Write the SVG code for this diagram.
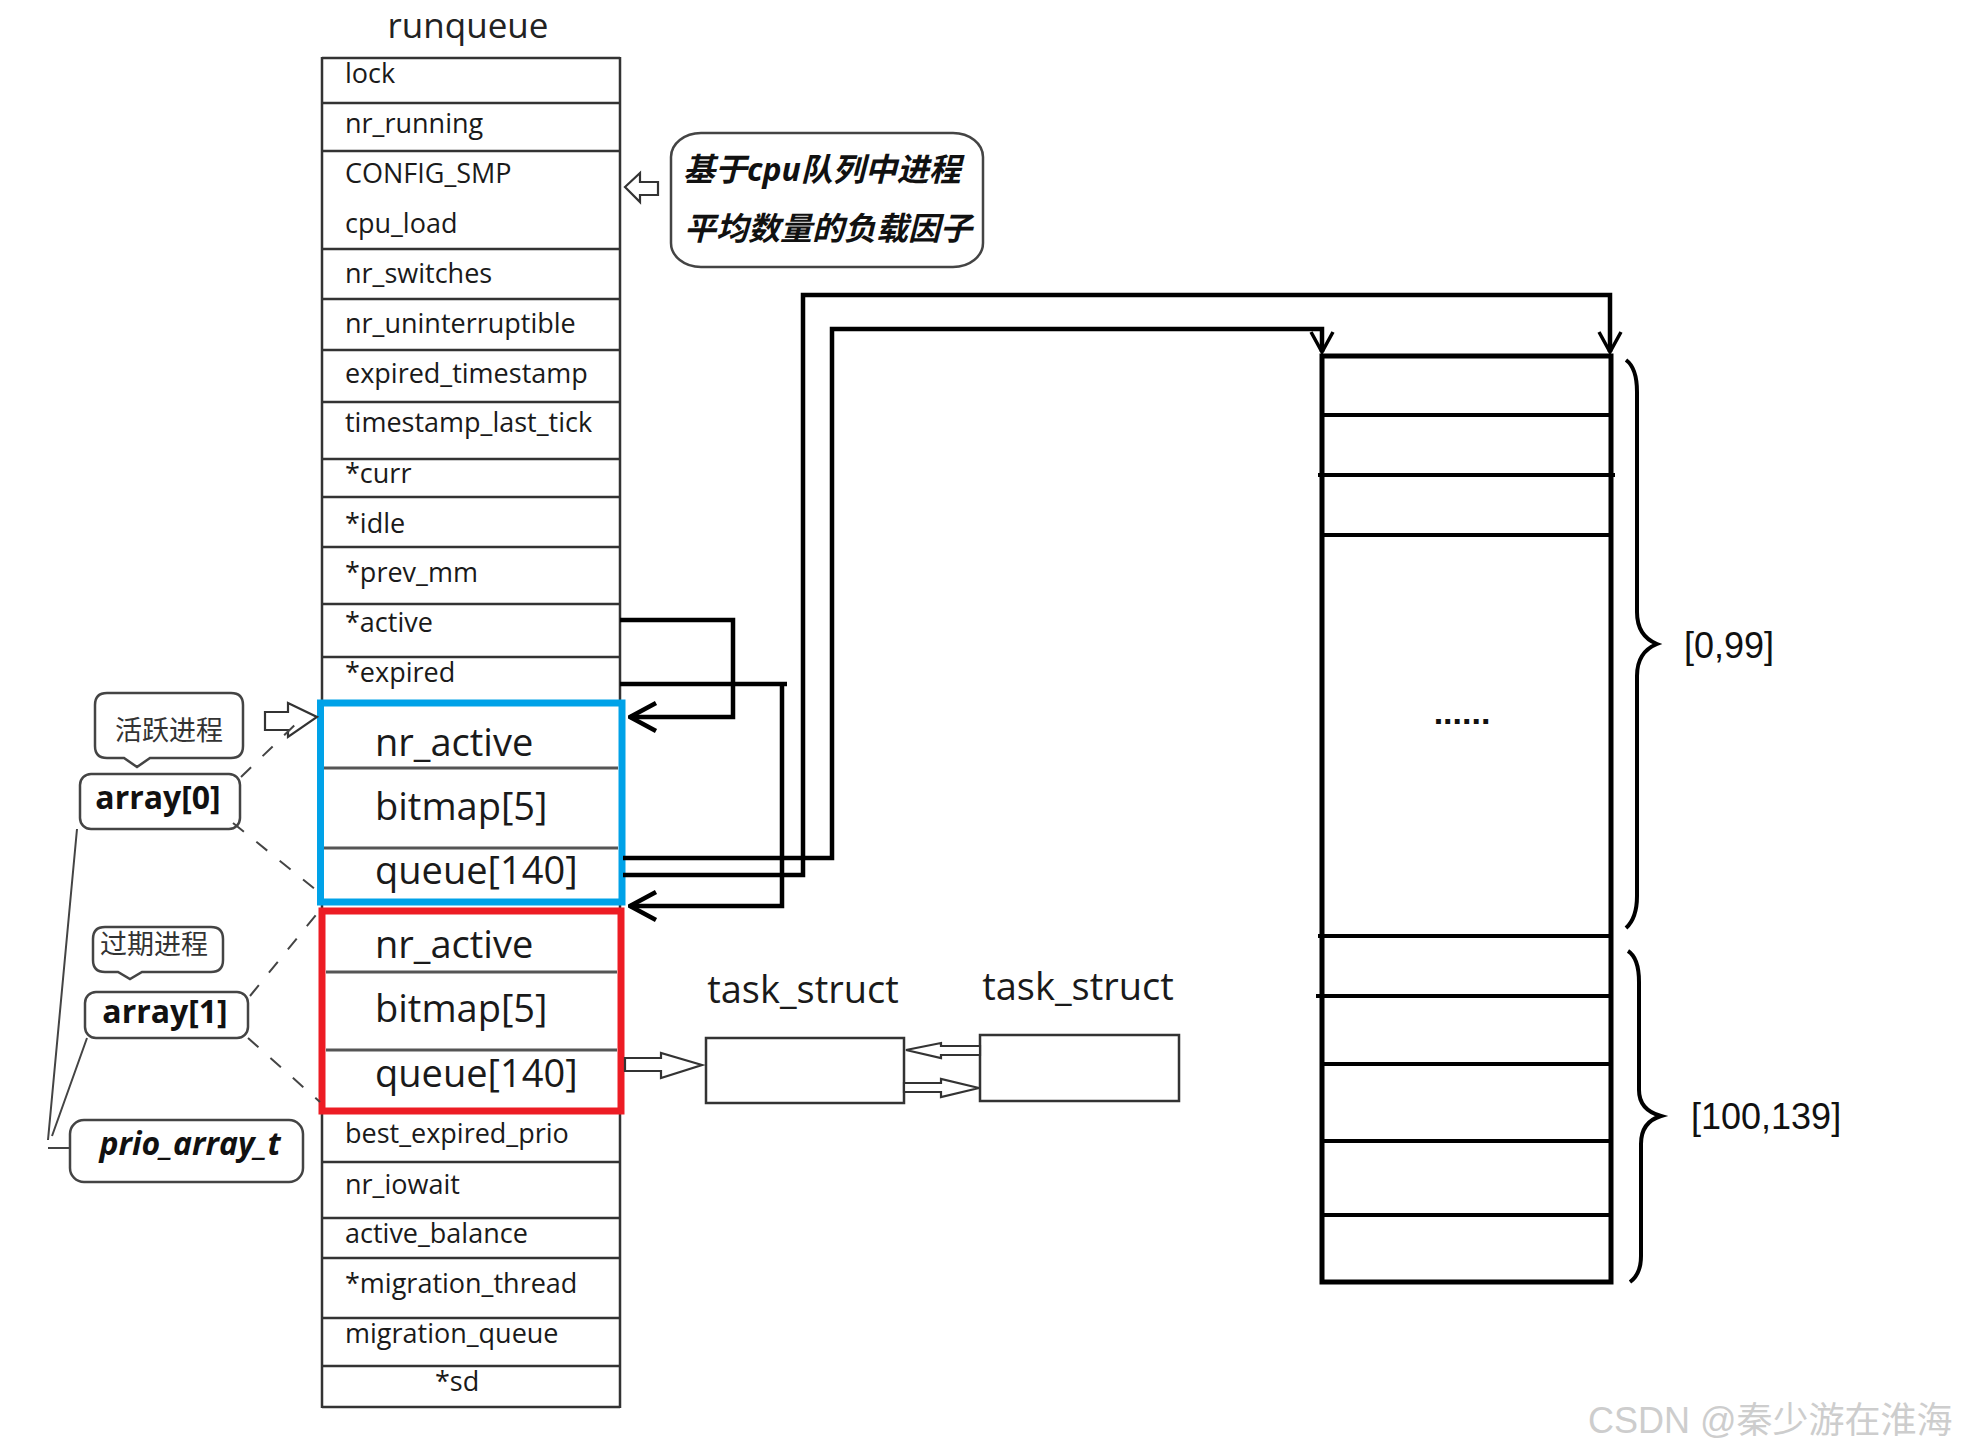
<svg xmlns="http://www.w3.org/2000/svg" width="1967" height="1455" viewBox="0 0 1967 1455">
<style>
.bg{fill:#fff}
.tl{stroke:#333;stroke-width:2.5;fill:none}
.ft{font-family:"Open Sans","Liberation Sans",sans-serif;font-size:27px;fill:#1a1a1a}
.big{font-family:"Open Sans","Liberation Sans",sans-serif;font-size:38px;fill:#1a1a1a}
.title{font-family:"Open Sans","Liberation Sans",sans-serif;font-size:35px;fill:#222}
.cn{font-family:"Noto Sans CJK SC","Noto Sans CJK JP",sans-serif;font-size:27px;fill:#333}
.lbl{font-family:"Open Sans","Liberation Sans",sans-serif;font-weight:bold;font-size:32px;fill:#111}
.note{font-family:"Open Sans","Noto Sans CJK SC",sans-serif;font-weight:bold;font-style:italic;font-size:32px;fill:#111}
.call{fill:#fff;stroke:#444;stroke-width:2.5}
.hol{fill:#fff;stroke:#333;stroke-width:2.2;stroke-linejoin:miter}
.con{fill:none;stroke:#000;stroke-width:4.5}
.dash{fill:none;stroke:#444;stroke-width:2;stroke-dasharray:14 16}
.thin{fill:none;stroke:#444;stroke-width:2}
.box{fill:#fff;stroke:#333;stroke-width:2.5}
.q{stroke:#000;stroke-width:4;fill:none}
.rng{font-family:"Liberation Sans","Open Sans",sans-serif;font-size:36px;fill:#111}
.wm{font-family:"Liberation Sans","Noto Sans CJK SC",sans-serif;font-size:36px;fill:#cdcdcd}
</style>
<defs>
<marker id="chevL" viewBox="0 0 30 32" refX="28" refY="16" markerWidth="30" markerHeight="32" markerUnits="userSpaceOnUse" orient="auto">
<path d="M2,2 L28,16 L2,30" fill="none" stroke="#000" stroke-width="4.5"/>
</marker>
<marker id="chevD" viewBox="0 0 24 26" refX="22" refY="13" markerWidth="24" markerHeight="26" markerUnits="userSpaceOnUse" orient="auto">
<path d="M2,2 L22,13 L2,24" fill="none" stroke="#000" stroke-width="3.5"/>
</marker>
</defs>
<rect class="bg" x="0" y="0" width="1967" height="1455"/>

<text class="title" x="468" y="38" text-anchor="middle">runqueue</text>

<g id="runqueue">
<line class="tl" x1="322" y1="57" x2="322" y2="1408"/>
<line class="tl" x1="620" y1="57" x2="620" y2="1408"/>
<path class="tl" d="M322,58H620 M322,103H620 M322,151H620 M322,249H620 M322,299H620 M322,350H620 M322,402H620 M322,459H620 M322,497H620 M322,547H620 M322,604H620 M322,657H620 M322,1162H620 M322,1218H620 M322,1258H620 M322,1318H620 M322,1366H620 M322,1407H620"/>
<text class="ft" x="345" y="83">lock</text>
<text class="ft" x="345" y="133">nr_running</text>
<text class="ft" x="345" y="183">CONFIG_SMP</text>
<text class="ft" x="345" y="233">cpu_load</text>
<text class="ft" x="345" y="283">nr_switches</text>
<text class="ft" x="345" y="333">nr_uninterruptible</text>
<text class="ft" x="345" y="383">expired_timestamp</text>
<text class="ft" x="345" y="432">timestamp_last_tick</text>
<text class="ft" x="345" y="483">*curr</text>
<text class="ft" x="345" y="533">*idle</text>
<text class="ft" x="345" y="582">*prev_mm</text>
<text class="ft" x="345" y="632">*active</text>
<text class="ft" x="345" y="682">*expired</text>
<text class="ft" x="345" y="1143">best_expired_prio</text>
<text class="ft" x="345" y="1194">nr_iowait</text>
<text class="ft" x="345" y="1243">active_balance</text>
<text class="ft" x="345" y="1293">*migration_thread</text>
<text class="ft" x="345" y="1343">migration_queue</text>
<text class="ft" x="435" y="1391">*sd</text>
</g>

<g id="array0">
<rect x="320.5" y="703" width="301.5" height="199" fill="#fff" stroke="#00a2e8" stroke-width="7"/>
<path d="M324,768H618 M324,848H618" stroke="#555" stroke-width="3"/>
<text class="big" x="375" y="756">nr_active</text>
<text class="big" x="375" y="820">bitmap[5]</text>
<text class="big" x="375" y="884">queue[140]</text>
</g>

<g id="array1">
<rect x="322" y="911" width="299" height="200" fill="#fff" stroke="#ed1c24" stroke-width="7"/>
<path d="M326,972H617 M326,1050H617" stroke="#555" stroke-width="3"/>
<text class="big" x="375" y="958">nr_active</text>
<text class="big" x="375" y="1022">bitmap[5]</text>
<text class="big" x="375" y="1087">queue[140]</text>
</g>

<g id="note-cpu-load">
<rect class="call" x="671" y="133" width="312" height="134" rx="30" ry="24"/>
<text class="note" x="683" y="181">基于cpu队列中进程</text>
<text class="note" x="684" y="240">平均数量的负载因子</text>
</g>

<g id="note-active">
<path class="call" d="M107,693H231Q243,693 243,705V746Q243,758 231,758H150L137,767L124,758H107Q95,758 95,746V705Q95,693 107,693Z"/>
<text class="cn" x="169" y="740" text-anchor="middle">活跃进程</text>
</g>

<g id="note-expired">
<path class="call" d="M105,927H211Q223,927 223,939V960Q223,972 211,972H142L130,979L118,972H105Q93,972 93,960V939Q93,927 105,927Z"/>
<text class="cn" x="154" y="954" text-anchor="middle">过期进程</text>
</g>

<g id="label-array0">
<rect class="call" x="80" y="774" width="160" height="55" rx="11"/>
<text class="lbl" x="158" y="809" text-anchor="middle">array[0]</text>
</g>

<g id="label-array1">
<rect class="call" x="85" y="992" width="163" height="46" rx="11"/>
<text class="lbl" x="165" y="1023" text-anchor="middle">array[1]</text>
</g>

<g id="label-prio-array-t">
<rect class="call" x="70" y="1120" width="233" height="62" rx="14"/>
<text class="lbl" x="190" y="1155" text-anchor="middle" font-style="italic">prio_array_t</text>
</g>

<g id="queue-array">
<rect x="1322" y="356" width="289" height="926" fill="#fff" stroke="#000" stroke-width="5"/>
<path class="q" d="M1322,415H1611 M1318,475H1615 M1322,535H1611 M1318,936H1611 M1316,996H1611 M1322,1064H1611 M1322,1141H1613 M1322,1215H1611"/>
<text x="1462" y="724" text-anchor="middle" font-family="Liberation Sans, sans-serif" font-size="34" font-weight="bold" fill="#111">......</text>
</g>

<g id="range-labels">
<path d="M1626,360Q1637,368 1637,392V612Q1637,636 1657,644Q1637,652 1637,676V896Q1637,918 1626,928" fill="none" stroke="#000" stroke-width="4"/>
<text class="rng" x="1684" y="658">[0,99]</text>
<path d="M1628,951Q1639,958 1639,982V1090Q1639,1110 1661,1116Q1641,1122 1641,1144V1256Q1641,1274 1630,1282" fill="none" stroke="#000" stroke-width="4"/>
<text class="rng" x="1691" y="1129">[100,139]</text>
</g>

<g id="task1">
<text class="big" x="803" y="1003" text-anchor="middle" font-size="37">task_struct</text>
<rect class="box" x="706" y="1038" width="198" height="65"/>
</g>
<g id="task2">
<text class="big" x="1078" y="1000" text-anchor="middle" font-size="37">task_struct</text>
<rect class="box" x="980" y="1035" width="199" height="66"/>
</g>

<g id="connectors">
<path class="con" d="M620,620H733V717H630" marker-end="url(#chevL)"/>
<path class="con" d="M620,684H787M782,684V906H630" marker-end="url(#chevL)"/>
<path class="con" d="M623,858H832V329H1322V352" marker-end="url(#chevD)"/>
<path class="con" d="M623,875H803V295H1610V352" marker-end="url(#chevD)"/>
<polygon class="hol" points="625,187 640,173 640,182 658,182 658,195 640,195 640,202"/>
<polygon class="hol" points="265,712 288,712 288,703 317,717 288,737 288,730 265,730"/>
<polygon class="hol" points="625,1058 661,1058 661,1053 702,1065 661,1078 661,1071 625,1071"/>
<polygon class="hol" points="906,1050 941,1043 941,1046 980,1046 980,1055 941,1055 941,1058"/>
<polygon class="hol" points="904,1083 941,1083 941,1079 979,1088 941,1097 941,1092 904,1092"/>
<line class="dash" x1="241" y1="777" x2="300" y2="720"/>
<line class="dash" x1="233" y1="823" x2="316" y2="890"/>
<line class="dash" x1="250" y1="996" x2="320" y2="910"/>
<line class="dash" x1="248" y1="1038" x2="320" y2="1102"/>
<path class="thin" d="M77,829L48,1140 M87,1038L52,1136 M48,1148H70"/>
</g>

<text class="wm" x="1588" y="1433">CSDN @秦少游在淮海</text>
</svg>
